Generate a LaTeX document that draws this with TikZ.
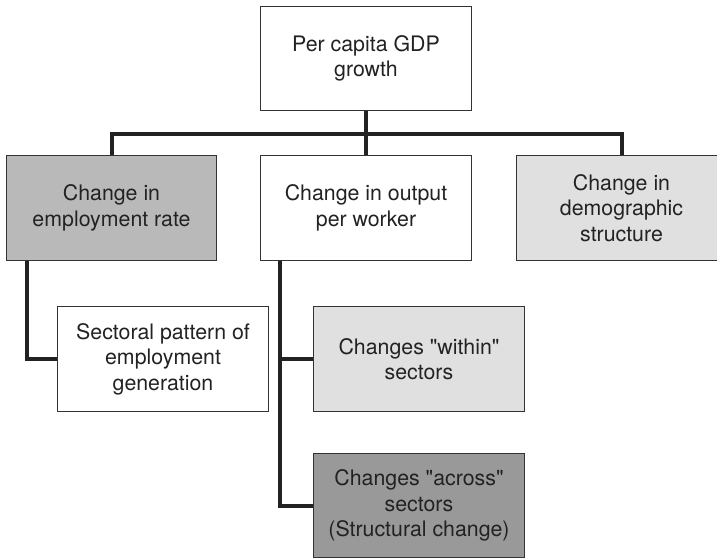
\documentclass[tikz,border=0pt]{standalone}
\usepackage{fontspec}
\setmainfont{TeX Gyre Heros}
\definecolor{boxline}{HTML}{333333}
\definecolor{midgray}{HTML}{B9B9B9}
\definecolor{lightgray}{HTML}{E0E0E0}
\definecolor{darkgray}{HTML}{999999}
\definecolor{textgray}{HTML}{222222}
\newcommand{\qt}{\textquotedbl}
\tikzset{
  box/.style={draw=boxline, line width=0.8pt, fill=white, text=textgray,
    minimum width=158pt, minimum height=78.5pt, inner sep=0pt,
    align=center, font=\fontsize{16}{19.2}\selectfont},
  link/.style={draw=textgray, line width=3pt, line join=miter}
}
\begin{document}
\begin{tikzpicture}[x=0.75pt,y=-0.75pt]
\useasboundingbox (0,0) rectangle (717,557);
\clip (0,0) rectangle (717,557);
\node[box] (gdp) at (366,58.5) {Per capita GDP\\growth};
\node[box, fill=midgray] (emp) at (111.5,208) {Change in\\employment rate};
\node[box] (out) at (366,208) {Change in output\\per worker};
\node[box, fill=lightgray] (demo) at (621.5,208) {Change in\\demographic\\structure};
\node[box] (sect) at (163,359) {Sectoral pattern of\\employment\\generation};
\node[box, fill=lightgray] (within) at (419,359) {Changes \qt within\qt\\sectors};
\node[box, fill=darkgray] (across) at (419,505.5) {Changes \qt across\qt\\sectors\\(Structural change)};
\coordinate (bar) at (366,134);
\coordinate (empdown) at ([xshift=15.75pt]emp.south west);
\coordinate (outdown) at ([xshift=15pt]out.south west);
\draw[link] (gdp.south) -- (out.north);
\draw[link] (emp.north) |- (bar) -| (demo.north);
\draw[link] (empdown) |- (sect.west);
\draw[link] (outdown) |- (within.west);
\draw[link] (outdown) |- (across.west);
\end{tikzpicture}
\end{document}
